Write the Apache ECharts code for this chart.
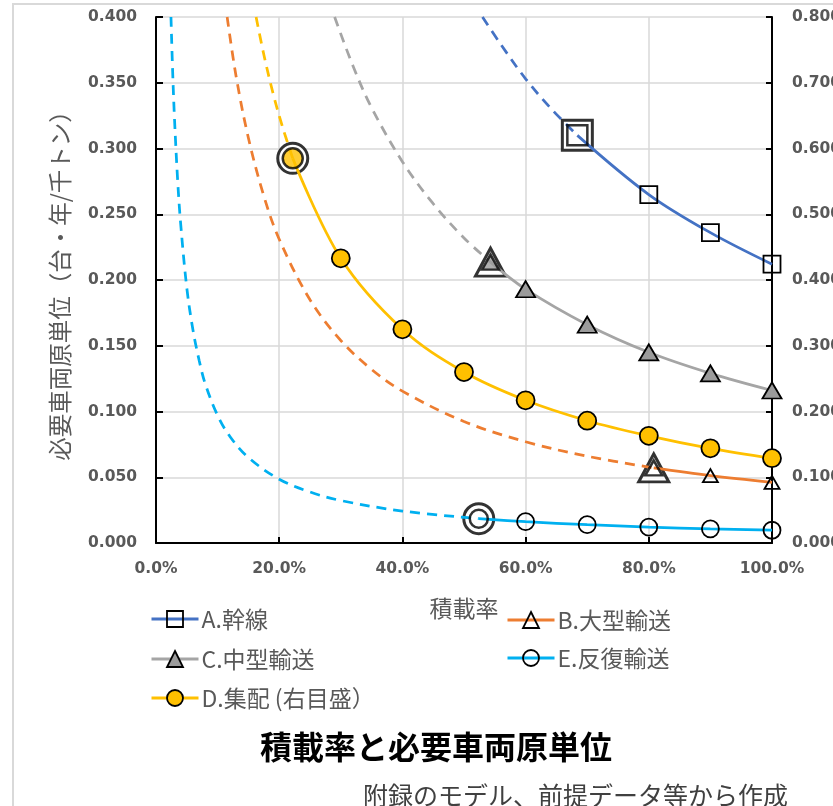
<!DOCTYPE html>
<html>
<head>
<meta charset="utf-8">
<script src="https://cdn.jsdelivr.net/npm/echarts@6/dist/echarts.min.js"></script>
<style>
  html, body { margin: 0; padding: 0; background: #fff; }
  #chart { width: 833px; height: 806px; }
</style>
</head>
<body>
<div id="chart"></div>
<script>
// Axis tick labels
const xTickLabels = ['0.0%', '20.0%', '40.0%', '60.0%', '80.0%', '100.0%'];
const leftTickLabels = ['0.000', '0.050', '0.100', '0.150', '0.200', '0.250', '0.300', '0.350', '0.400'];
const rightTickLabels = ['0.000', '0.100', '0.200', '0.300', '0.400', '0.500', '0.600', '0.700', '0.800'];

// [積載率, 必要車両原単位] — dashed part (low load factor) and solid part
const aDashed = [[0.53, 0.400], [0.56, 0.379], [0.60, 0.353], [0.64, 0.331], [0.684, 0.310]];
const aSolid  = [[0.684, 0.310], [0.80, 0.265], [0.90, 0.236], [1.00, 0.212]];

const bDashed = [[0.1155, 0.400], [0.13, 0.355], [0.15, 0.308], [0.175, 0.264], [0.20, 0.231],
                 [0.25, 0.185], [0.30, 0.154], [0.35, 0.132], [0.40, 0.1155], [0.50, 0.0924],
                 [0.60, 0.077], [0.70, 0.066], [0.808, 0.0571]];
const bSolid  = [[0.808, 0.0571], [0.90, 0.0512], [1.00, 0.0461]];

const cDashed = [[0.29, 0.400], [0.32, 0.3625], [0.35, 0.331], [0.40, 0.290], [0.45, 0.258],
                 [0.50, 0.232], [0.543, 0.2136]];
const cSolid  = [[0.543, 0.2136], [0.60, 0.193], [0.70, 0.166], [0.80, 0.145], [0.90, 0.129], [1.00, 0.116]];

// D is read on the right-hand scale
const dDashed = [[0.1625, 0.800], [0.175, 0.743], [0.19, 0.684], [0.205, 0.634], [0.222, 0.585]];
const dSolid  = [[0.222, 0.585], [0.30, 0.433], [0.40, 0.325], [0.50, 0.260], [0.60, 0.217],
                 [0.70, 0.186], [0.80, 0.163], [0.90, 0.144], [1.00, 0.129]];

const eDashed = [[0.0243, 0.400], [0.027, 0.359], [0.030, 0.323], [0.035, 0.277], [0.040, 0.243],
                 [0.050, 0.194], [0.060, 0.162], [0.070, 0.139], [0.080, 0.121], [0.10, 0.097],
                 [0.12, 0.081], [0.15, 0.065], [0.20, 0.0485], [0.25, 0.0388], [0.30, 0.0323],
                 [0.40, 0.0243], [0.524, 0.0185]];
const eSolid  = [[0.524, 0.0185], [0.60, 0.0162], [0.70, 0.0139], [0.80, 0.0121], [0.90, 0.0108], [1.00, 0.0097]];

const CJK = '"Noto Sans CJK JP", "Noto Sans", sans-serif';
const NUM = '"DejaVu Sans", sans-serif';
const GREY_TEXT = '#595959';
const LINE_W = 2.75;

function solidLine(name, color, symbol, size, fill, data, yAxisIndex) {
  return {
    name, type: 'line', yAxisIndex, smooth: 0.35,
    // first point carries the highlighted marker instead
    data: data.map((p, i) => i === 0 ? { value: p, symbol: 'none' } : p),
    symbol, symbolSize: size, showSymbol: true, showAllSymbol: true,
    lineStyle: { color, width: LINE_W },
    itemStyle: { color: fill, borderColor: '#000', borderWidth: 1.8 },
    z: 3, silent: true
  };
}
function dashedLine(id, color, data, yAxisIndex) {
  return {
    name: id, type: 'line', yAxisIndex, smooth: 0.35,
    data, symbol: 'none', clip: true,
    lineStyle: { color, width: LINE_W, type: [10, 7] },
    z: 2, silent: true
  };
}
function highlight(point, symbol, outerSize, innerSize, fill, yAxisIndex) {
  return [
    { type: 'scatter', yAxisIndex, data: [point], symbol, symbolSize: outerSize,
      itemStyle: { color: '#fff', borderColor: '#000', borderWidth: 3 }, z: 1, silent: true },
    { type: 'scatter', yAxisIndex, data: [point], symbol, symbolSize: innerSize,
      itemStyle: { color: fill, borderColor: '#000', borderWidth: 2.5 }, z: 4, silent: true }
  ];
}

const NAMES = { A: 'A.幹線', B: 'B.大型輸送', C: 'C.中型輸送', D: 'D.集配 (右目盛）', E: 'E.反復輸送' };
const COLORS = { A: '#4472C4', B: '#ED7D31', C: '#A5A5A5', D: '#FFC000', E: '#00B0F0' };

function legendAt(name, left, centerY) {
  return {
    data: [name], left, top: centerY - 12, padding: 0,
    itemWidth: 47, itemHeight: 20, itemGap: 0,
    selectedMode: false,
    lineStyle: { width: 3 },
    itemStyle: { borderWidth: 1.8 },
    textStyle: { color: GREY_TEXT, fontSize: 23, lineHeight: 24, fontFamily: CJK, padding: [0, 0, 0, -2] }
  };
}

const axisLabelStyle = { color: GREY_TEXT, fontSize: 15.5, fontWeight: 'bold', fontFamily: NUM };

const option = {
  animation: false,
  backgroundColor: '#fff',
  grid: { left: 156, right: 61, top: 17, bottom: 263, outerBoundsMode: 'none', containLabel: false },
  title: [
    { text: '積載率と必要車両原単位', left: 255, top: 726,
      textStyle: { fontSize: 32, fontWeight: 'bold', color: '#000', fontFamily: CJK, lineHeight: 32 } },
    { text: '附録のモデル、前提データ等から作成', left: 358, top: 777,
      textStyle: { fontSize: 25, fontWeight: 'normal', color: '#404040', fontFamily: CJK, lineHeight: 26 } }
  ],
  legend: [
    legendAt(NAMES.A, 150, 619),
    legendAt(NAMES.B, 506, 620),
    legendAt(NAMES.C, 150, 659),
    legendAt(NAMES.E, 506, 658),
    legendAt(NAMES.D, 150, 698)
  ],
  xAxis: {
    type: 'value', min: 0, max: 1, interval: 0.2,
    name: '積載率', nameLocation: 'middle', nameGap: 54,
    nameTextStyle: { color: GREY_TEXT, fontSize: 23, fontFamily: CJK },
    axisLine: { show: true, lineStyle: { color: '#000', width: 2 } },
    axisTick: { show: true, inside: true, length: 6, lineStyle: { color: '#000', width: 2 } },
    axisLabel: { ...axisLabelStyle, margin: 18, formatter: v => xTickLabels[Math.round(v / 0.2)] },
    splitLine: { show: true, lineStyle: { color: '#D9D9D9', width: 1.5 } }
  },
  yAxis: [
    {
      type: 'value', min: 0, max: 0.4, interval: 0.05, position: 'left',
      name: '必要車両原単位（台・年/千トン）', nameLocation: 'middle', nameGap: 84, nameRotate: 90,
      nameTextStyle: { color: GREY_TEXT, fontSize: 23.5, fontFamily: CJK },
      axisLine: { show: true, lineStyle: { color: '#000', width: 2 } },
      axisTick: { show: true, inside: true, length: 7, lineStyle: { color: '#000', width: 2 } },
      axisLabel: { ...axisLabelStyle, margin: 19, formatter: v => leftTickLabels[Math.round(v / 0.05)] },
      splitLine: { show: true, lineStyle: { color: '#D9D9D9', width: 1.5 } }
    },
    {
      type: 'value', min: 0, max: 0.8, interval: 0.1, position: 'right',
      axisLine: { show: true, lineStyle: { color: '#000', width: 2 } },
      axisTick: { show: true, inside: true, length: 6, lineStyle: { color: '#000', width: 2 } },
      axisLabel: { ...axisLabelStyle, margin: 20, formatter: v => rightTickLabels[Math.round(v / 0.1)] },
      splitLine: { show: false }
    }
  ],
  graphic: [
    { type: 'rect', shape: { x: 13, y: 4, width: 900, height: 900 },
      style: { fill: 'none', stroke: '#D9D9D9', lineWidth: 2 }, z: -10, silent: true }
  ],
  series: [
    dashedLine('A-dashed', COLORS.A, aDashed, 0),
    dashedLine('B-dashed', COLORS.B, bDashed, 0),
    dashedLine('C-dashed', COLORS.C, cDashed, 0),
    dashedLine('D-dashed', COLORS.D, dDashed, 1),
    dashedLine('E-dashed', COLORS.E, eDashed, 0),
    solidLine(NAMES.A, COLORS.A, 'rect', 17, 'transparent', aSolid, 0),
    solidLine(NAMES.B, COLORS.B, 'triangle', [15, 13], 'transparent', bSolid, 0),
    solidLine(NAMES.C, COLORS.C, 'triangle', [19, 16], '#9B9B9B', cSolid, 0),
    solidLine(NAMES.D, COLORS.D, 'circle', 18, COLORS.D, dSolid, 1),
    solidLine(NAMES.E, COLORS.E, 'circle', 17, 'transparent', eSolid, 0),
    ...highlight(aSolid[0], 'rect', 30, 20, 'transparent', 0),
    ...highlight(bSolid[0], 'triangle', [30, 28], [17, 15], 'transparent', 0),
    ...highlight(cSolid[0], 'triangle', [30, 28], [17, 15], '#9B9B9B', 0),
    ...highlight(dSolid[0], 'circle', 30, 20, COLORS.D, 1),
    ...highlight(eSolid[0], 'circle', 30, 18, 'transparent', 0)
  ]
};

const chart = echarts.init(document.getElementById('chart'), null, { renderer: 'canvas' });
chart.setOption(option);
</script>
</body>
</html>
